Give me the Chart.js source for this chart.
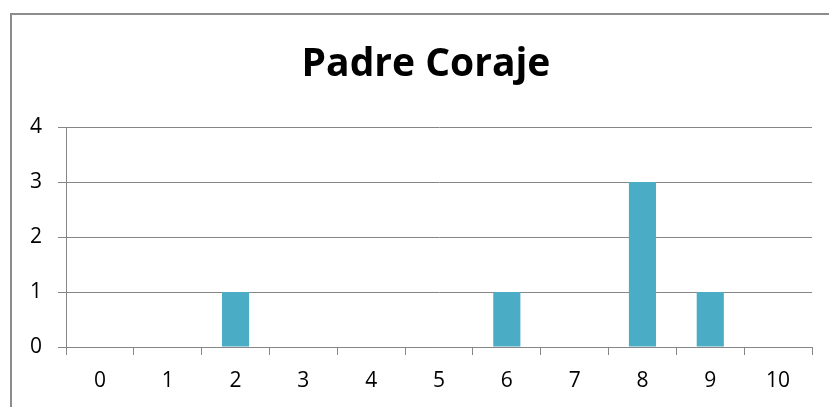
<!DOCTYPE html>
<html>
<head>
<meta charset="utf-8">
<script src="https://cdn.jsdelivr.net/npm/chart.js@4"></script>
<style>
  html, body { margin: 0; padding: 0; background: #fff; }
  #wrap { width: 829px; height: 407px; }
</style>
</head>
<body>
<div id="wrap"><canvas id="chart" width="829" height="407"></canvas></div>
<script>
const categories = ["0", "1", "2", "3", "4", "5", "6", "7", "8", "9", "10"];
const counts = [0, 0, 1, 0, 0, 0, 1, 0, 3, 1, 0];
const yTicks = [0, 1, 2, 3, 4];
const chartTitle = "Padre Coraje";

const fontFamily = "'Open Sans', Lato, sans-serif";

// Outer frame of the chart (cropped right and bottom like the original) and the title,
// which sits centred on the full, uncropped chart width
const framePlugin = {
  id: "frame",
  beforeDraw(chart) {
    const ctx = chart.ctx;
    ctx.save();
    ctx.fillStyle = "#fff";
    ctx.fillRect(0, 0, chart.width, chart.height);
    ctx.strokeStyle = "#8c8c8c";
    ctx.lineWidth = 2;
    ctx.strokeRect(11, 14, 900, 500);

    ctx.fillStyle = "#000";
    ctx.font = "bold 39px " + fontFamily;
    ctx.textAlign = "center";
    ctx.textBaseline = "middle";
    ctx.fillText(chartTitle, 426, 65);
    ctx.restore();
  },
};

new Chart(document.getElementById("chart"), {
  type: "bar",
  data: {
    labels: categories,
    datasets: [
      {
        data: counts,
        backgroundColor: "#4bacc6",
        barPercentage: 0.4,
        categoryPercentage: 1,
      },
    ],
  },
  options: {
    responsive: false,
    animation: false,
    layout: { padding: { left: 0, right: 17, top: 127, bottom: 0 } },
    plugins: {
      legend: { display: false },
      tooltip: { enabled: false },
      title: { display: false },
    },
    scales: {
      x: {
        grid: {
          offset: true,
          drawOnChartArea: false,
          tickLength: 8,
          color: "#868686",
        },
        border: { color: "#868686" },
        ticks: {
          color: "#000",
          font: { family: fontFamily, size: 21 },
          padding: 13,
          maxRotation: 0,
        },
        afterFit(scale) {
          scale.height = 60;
        },
      },
      y: {
        min: 0,
        max: 4,
        afterBuildTicks(scale) {
          scale.ticks = yTicks.map((v) => ({ value: v }));
        },
        grid: { color: "#868686", tickLength: 8 },
        border: { color: "#868686" },
        ticks: {
          color: "#000",
          font: { family: fontFamily, size: 21 },
          padding: 16,
        },
        afterFit(scale) {
          scale.width = 66;
        },
      },
    },
  },
  plugins: [framePlugin],
});
</script>
</body>
</html>
